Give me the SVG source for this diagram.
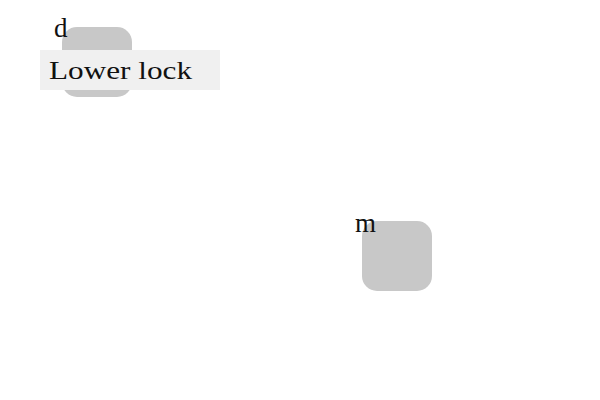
<svg xmlns="http://www.w3.org/2000/svg" width="600" height="400" viewBox="0 0 600 400">
<style>
.node{fill:#c8c8c8;}
.lbl{font-family:"Liberation Serif","DejaVu Serif",serif;fill:#111;}
</style>
<rect width="600" height="400" fill="#fff"/>
<g id="connectors"></g>
<g id="node-d">
<rect class="node" x="62" y="27" width="70" height="70" rx="15"/>
<text class="lbl" x="54" y="36.5" font-size="27">d</text>
</g>
<g id="node-m">
<rect class="node" x="362" y="221" width="70" height="70" rx="15"/>
<text class="lbl" x="355" y="231.5" font-size="27">m</text>
</g>
<g id="label-lower-lock">
<rect x="40" y="50" width="180" height="40" fill="#f0f0f0"/>
<text class="lbl" x="49" y="78.5" font-size="26" textLength="143" lengthAdjust="spacingAndGlyphs">Lower lock</text>
</g>
</svg>
